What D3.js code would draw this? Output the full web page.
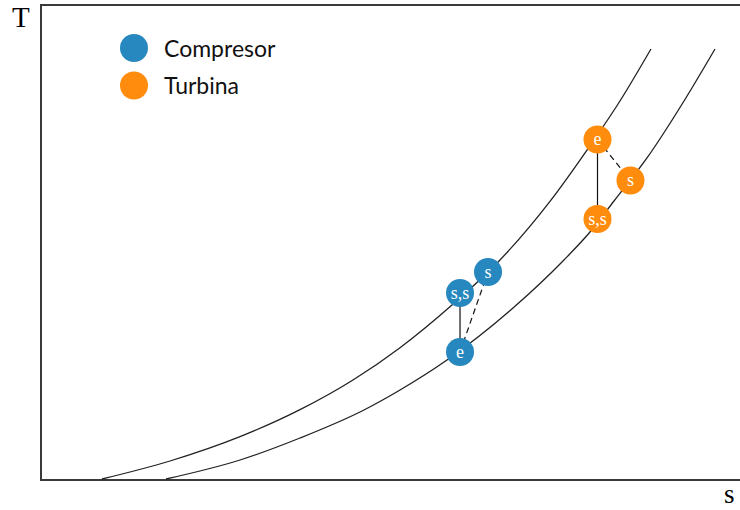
<!DOCTYPE html>
<html>
<head>
<meta charset="utf-8">
<script src="https://cdn.jsdelivr.net/npm/d3@7"></script>
<style>
  html, body { margin: 0; padding: 0; background: #fff; }
  svg { display: block; }
</style>
</head>
<body>
<svg id="chart" width="740" height="510"></svg>
<script>
// Isobar curves on the T–s plane (s = entropy, T = temperature, arbitrary units)
const isobarHighS = [8.71, 18.43, 28.43, 37.0, 44.57, 51.29, 58.71, 65.57, 72.71, 78.0, 82.71, 87.14];
const isobarHighT = [0.21, 4.0, 9.12, 14.8, 21.05, 27.85, 36.84, 46.32, 58.67, 69.47, 79.79, 90.74];
const isobarLowS  = [17.86, 28.43, 37.0, 46.14, 51.29, 58.0, 67.43, 74.71, 78.43, 81.86, 86.57, 91.86, 96.29];
const isobarLowT  = [0.21, 4.21, 8.84, 14.74, 18.95, 25.26, 36.21, 46.32, 52.21, 58.74, 67.79, 79.79, 90.74];

// State points: e = inlet, s = real outlet, s,s = isentropic outlet
const stateLabels = ["e", "s,s", "s"];
const compresorS = [59.86, 59.86, 63.86];
const compresorT = [26.95, 39.37, 43.79];
const turbinaS   = [79.5, 79.5, 84.21];
const turbinaT   = [71.68, 54.95, 63.05];

const seriesNames = ["Compresor", "Turbina"];
const seriesColors = ["#2688be", "#ff8c0c"];

const serif = "'Liberation Serif', 'DejaVu Serif', serif";

const svg = d3.select("#chart");
const x = d3.scaleLinear().domain([0, 100]).range([41, 741]);
const y = d3.scaleLinear().domain([0, 100]).range([480, 5]);

// Frame (left, top, bottom)
const frame = svg.append("g").attr("stroke", "#3a3a3a").attr("stroke-width", 2).attr("fill", "none");
frame.append("path").attr("d", `M${x(100) + 5},${y(100)} H${x(0)} V${y(0)} H${x(100) + 5}`);

// Axis labels
svg.append("text").attr("x", 12).attr("y", 27)
  .attr("font-family", serif).attr("font-size", 29)
  .text("T");
svg.append("text").attr("x", 724).attr("y", 503)
  .attr("font-family", serif).attr("font-size", 27)
  .text("s");

// Isobars
const line = d3.line().x(d => x(d[0])).y(d => y(d[1])).curve(d3.curveMonotoneX);
[[isobarHighS, isobarHighT], [isobarLowS, isobarLowT]].forEach(([ss, ts]) => {
  svg.append("path")
    .datum(ss.map((s, i) => [s, ts[i]]))
    .attr("d", line)
    .attr("fill", "none")
    .attr("stroke", "#222")
    .attr("stroke-width", 1.3);
});

// Process lines and state points
const series = [
  { s: compresorS, t: compresorT, color: seriesColors[0] },
  { s: turbinaS, t: turbinaT, color: seriesColors[1] }
];
series.forEach(sr => {
  const pts = stateLabels.map((lab, i) => ({ lab, s: sr.s[i], t: sr.t[i] }));
  const e = pts[0], ss = pts[1], so = pts[2];
  svg.append("line")
    .attr("x1", x(e.s)).attr("y1", y(e.t)).attr("x2", x(ss.s)).attr("y2", y(ss.t))
    .attr("stroke", "#111").attr("stroke-width", 1.2);
  svg.append("line")
    .attr("x1", x(e.s)).attr("y1", y(e.t)).attr("x2", x(so.s)).attr("y2", y(so.t))
    .attr("stroke", "#111").attr("stroke-width", 1.2).attr("stroke-dasharray", "6,4");
  const g = svg.append("g").selectAll("g").data(pts).join("g")
    .attr("transform", d => `translate(${x(d.s)},${y(d.t)})`);
  g.append("circle").attr("r", 14).attr("fill", sr.color);
  g.append("text")
    .attr("text-anchor", "middle").attr("dy", "0.33em")
    .attr("font-family", serif).attr("font-size", 18)
    .attr("fill", "#fff")
    .text(d => d.lab);
});

// Legend
const legend = svg.append("g").selectAll("g").data(seriesNames).join("g")
  .attr("transform", (d, i) => `translate(134,${48 + i * 37.5})`);
legend.append("circle").attr("r", 14).attr("fill", (d, i) => seriesColors[i]);
legend.append("text").attr("x", 30).attr("y", 8.5)
  .attr("font-family", "Lato, sans-serif").attr("font-size", 23)
  .attr("fill", "#111")
  .text(d => d);
</script>
</body>
</html>
